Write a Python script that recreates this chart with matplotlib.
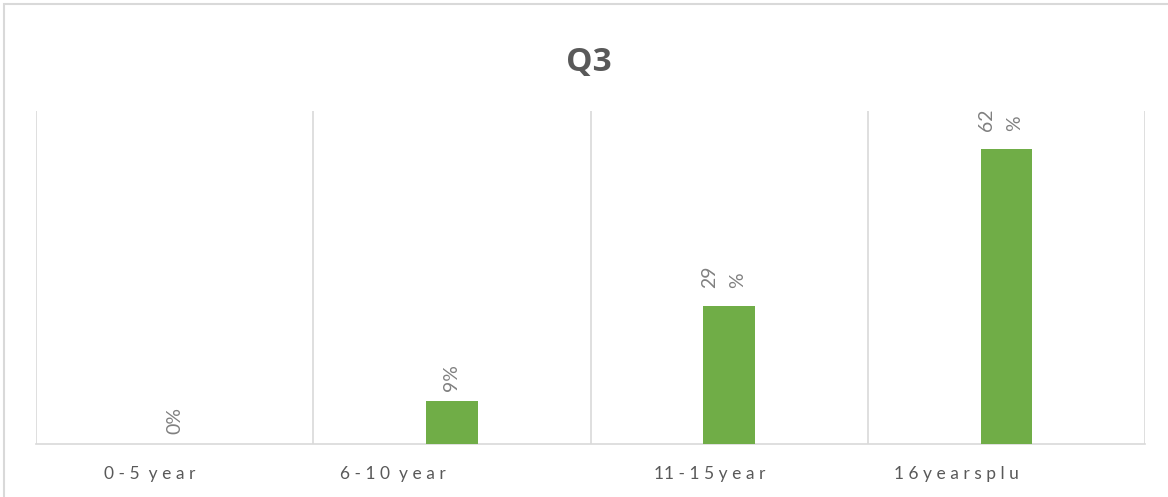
import matplotlib
matplotlib.use("Agg")
import matplotlib.pyplot as plt
import matplotlib.transforms as mtransforms
from matplotlib.patches import Rectangle

categories = ["0 - 5  y e a r", "6 - 1 0  y e a r", "11 - 1 5 y e a r", "1 6 y e a r s p l u"]
values = [0, 9, 29, 62]
value_labels = ["0%", "9%", "29\n%", "62\n%"]
# Excel left the tick labels off-centre (trailing blanks); pixel shifts
label_shifts = [-25, -59, -19, -50]

plt.rcParams['font.family'] = ['Lato', 'DejaVu Sans']

fig = plt.figure(figsize=(11.68, 4.97), dpi=100)
ax = fig.add_axes([36 / 1168, 53 / 497, 1109 / 1168, 333 / 497])

x = list(range(len(categories)))
bars = ax.bar(x, values, width=0.185, color="#70AD47", zorder=3)

for xi, v, lab in zip(x, values, value_labels):
    off = 7 if "\n" not in lab else 13
    ax.annotate(lab, (xi, v), xytext=(-4 if "\n" in lab else 0, off),
                textcoords="offset points",
                rotation=90, ha="center", va="bottom", color="#808080",
                fontsize=14, linespacing=1.8, multialignment="left")

ax.set_xlim(-0.5, len(categories) - 0.5)
ax.set_ylim(0, 70)
ax.set_yticks([])
ax.set_xticks(x)
ax.set_xticklabels(categories, fontsize=12.5, color="#595959")
ax.tick_params(axis="x", length=0, pad=16)
for lbl, dx in zip(ax.get_xticklabels(), label_shifts):
    lbl.set_transform(lbl.get_transform() +
                      mtransforms.ScaledTranslation(dx / 100, 0, fig.dpi_scale_trans))

for b in [i - 0.5 for i in range(len(categories) + 1)]:
    ax.axvline(b, color="#d9d9d9", lw=1.2, zorder=1)

for s in ["top", "left", "right"]:
    ax.spines[s].set_visible(False)
ax.spines["bottom"].set_color("#d9d9d9")
ax.spines["bottom"].set_linewidth(1.2)

fig.text(589 / 1168, 1 - 62 / 497, "Q3", ha="center", va="center",
         fontsize=24, fontweight="bold", color="#595959",
         family=["Open Sans", "DejaVu Sans"])

fig.patches.append(Rectangle((4 / 1168, -0.01), 1.02, 1 - 4 / 497 + 0.01,
                             transform=fig.transFigure, fill=False,
                             edgecolor="#d9d9d9", lw=1.5))

fig.savefig("out.png", dpi=100)
